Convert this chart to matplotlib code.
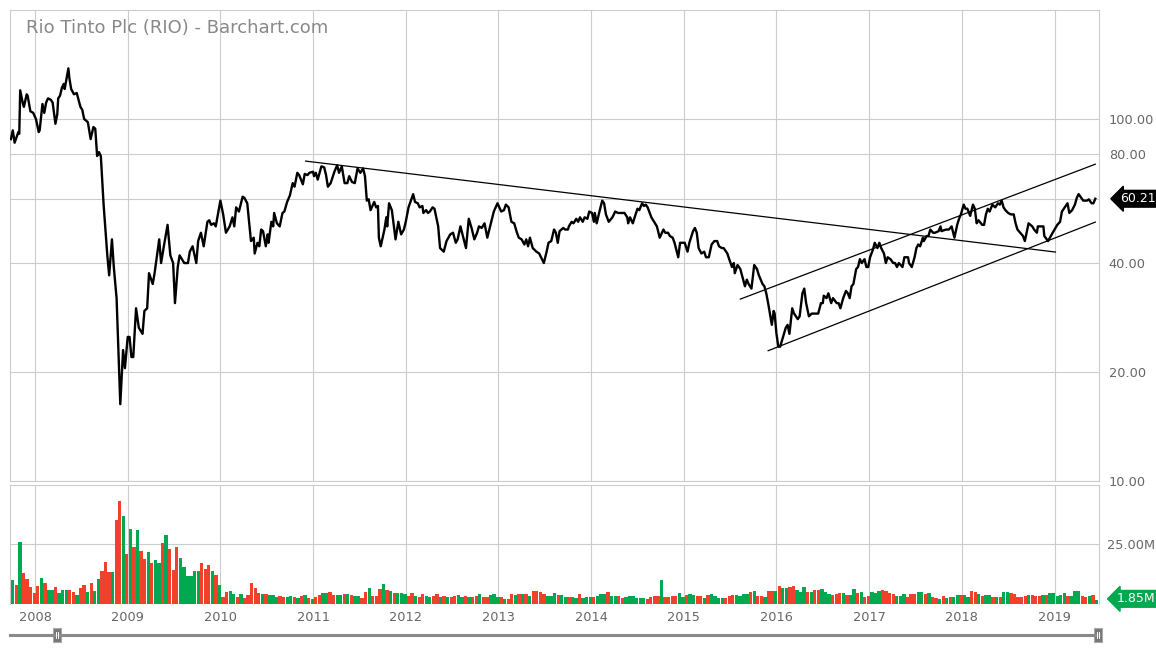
import numpy as np
import matplotlib
matplotlib.use("Agg")
import matplotlib.pyplot as plt
import matplotlib.transforms as mtrans
from matplotlib.patches import Rectangle
from matplotlib.lines import Line2D

# weekly-ish closing prices (decimal year, USD)
price_t = [
    2007.74, 2007.76, 2007.78, 2007.82, 2007.83, 2007.84, 2007.87, 2007.88, 2007.91, 2007.92,
    2007.95, 2007.98, 2008.01, 2008.04, 2008.05, 2008.08, 2008.10, 2008.12, 2008.14, 2008.17,
    2008.19, 2008.22, 2008.24, 2008.25, 2008.27, 2008.29, 2008.31, 2008.32, 2008.36, 2008.37,
    2008.39, 2008.42, 2008.45, 2008.49, 2008.51, 2008.53, 2008.57, 2008.60, 2008.63, 2008.65,
    2008.67, 2008.69, 2008.71, 2008.74, 2008.78, 2008.80, 2008.83, 2008.85, 2008.88, 2008.92,
    2008.95, 2008.97, 2009.00, 2009.02, 2009.04, 2009.06, 2009.09, 2009.12, 2009.16, 2009.18,
    2009.21, 2009.23, 2009.27, 2009.29, 2009.34, 2009.36, 2009.39, 2009.43, 2009.46, 2009.49,
    2009.51, 2009.54, 2009.56, 2009.61, 2009.65, 2009.67, 2009.70, 2009.74, 2009.76, 2009.79,
    2009.82, 2009.86, 2009.88, 2009.90, 2009.93, 2009.95, 2009.97, 2010.00, 2010.03, 2010.06,
    2010.10, 2010.13, 2010.15, 2010.17, 2010.20, 2010.24, 2010.26, 2010.29, 2010.33, 2010.36,
    2010.37, 2010.40, 2010.42, 2010.44, 2010.46, 2010.49, 2010.51, 2010.52, 2010.55, 2010.57,
    2010.58, 2010.61, 2010.64, 2010.67, 2010.69, 2010.72, 2010.75, 2010.78, 2010.80, 2010.83,
    2010.85, 2010.89, 2010.91, 2010.94, 2010.96, 2011.00, 2011.01, 2011.03, 2011.05, 2011.09,
    2011.12, 2011.14, 2011.16, 2011.19, 2011.23, 2011.26, 2011.28, 2011.31, 2011.34, 2011.37,
    2011.39, 2011.42, 2011.45, 2011.48, 2011.51, 2011.54, 2011.56, 2011.58, 2011.60, 2011.62,
    2011.66, 2011.68, 2011.70, 2011.71, 2011.73, 2011.77, 2011.79, 2011.80, 2011.82, 2011.85,
    2011.89, 2011.92, 2011.95, 2011.98, 2012.00, 2012.03, 2012.08, 2012.10, 2012.13, 2012.15,
    2012.18, 2012.19, 2012.22, 2012.24, 2012.26, 2012.29, 2012.31, 2012.35, 2012.37, 2012.41,
    2012.44, 2012.48, 2012.51, 2012.54, 2012.56, 2012.59, 2012.63, 2012.65, 2012.68, 2012.71,
    2012.74, 2012.77, 2012.79, 2012.82, 2012.85, 2012.88, 2012.91, 2012.95, 2012.97, 2012.99,
    2013.03, 2013.06, 2013.08, 2013.11, 2013.14, 2013.17, 2013.20, 2013.22, 2013.25, 2013.28,
    2013.30, 2013.32, 2013.34, 2013.37, 2013.41, 2013.44, 2013.47, 2013.49, 2013.52, 2013.54,
    2013.57, 2013.60, 2013.62, 2013.64, 2013.66, 2013.70, 2013.72, 2013.75, 2013.76, 2013.79,
    2013.81, 2013.84, 2013.86, 2013.88, 2013.91, 2013.93, 2013.96, 2013.98, 2014.01, 2014.03,
    2014.04, 2014.06, 2014.09, 2014.12, 2014.14, 2014.16, 2014.19, 2014.23, 2014.26, 2014.29,
    2014.33, 2014.36, 2014.39, 2014.40, 2014.42, 2014.45, 2014.47, 2014.50, 2014.52, 2014.55,
    2014.57, 2014.59, 2014.61, 2014.65, 2014.68, 2014.71, 2014.74, 2014.78, 2014.80, 2014.83,
    2014.85, 2014.88, 2014.90, 2014.94, 2014.96, 2014.99, 2015.01, 2015.04, 2015.06, 2015.10,
    2015.12, 2015.14, 2015.16, 2015.19, 2015.22, 2015.24, 2015.27, 2015.30, 2015.33, 2015.36,
    2015.38, 2015.41, 2015.43, 2015.47, 2015.49, 2015.52, 2015.54, 2015.55, 2015.58, 2015.61,
    2015.64, 2015.66, 2015.68, 2015.70, 2015.73, 2015.76, 2015.79, 2015.81, 2015.85, 2015.87,
    2015.89, 2015.91, 2015.95, 2015.97, 2015.98, 2016.00, 2016.02, 2016.04, 2016.08, 2016.10,
    2016.12, 2016.14, 2016.17, 2016.19, 2016.23, 2016.25, 2016.28, 2016.30, 2016.32, 2016.35,
    2016.38, 2016.40, 2016.43, 2016.45, 2016.48, 2016.50, 2016.51, 2016.54, 2016.56, 2016.59,
    2016.61, 2016.65, 2016.67, 2016.69, 2016.72, 2016.75, 2016.77, 2016.79, 2016.81, 2016.83,
    2016.86, 2016.88, 2016.90, 2016.92, 2016.95, 2016.97, 2016.99, 2017.01, 2017.04, 2017.06,
    2017.09, 2017.11, 2017.13, 2017.16, 2017.18, 2017.20, 2017.23, 2017.26, 2017.28, 2017.30,
    2017.32, 2017.36, 2017.38, 2017.42, 2017.43, 2017.46, 2017.49, 2017.51, 2017.53, 2017.55,
    2017.58, 2017.59, 2017.62, 2017.64, 2017.66, 2017.69, 2017.71, 2017.75, 2017.77, 2017.78,
    2017.83, 2017.86, 2017.89, 2017.92, 2017.95, 2017.97, 2017.99, 2018.02, 2018.04, 2018.06,
    2018.09, 2018.12, 2018.14, 2018.16, 2018.18, 2018.22, 2018.24, 2018.26, 2018.28, 2018.30,
    2018.33, 2018.36, 2018.39, 2018.41, 2018.43, 2018.45, 2018.47, 2018.50, 2018.53, 2018.56,
    2018.58, 2018.60, 2018.63, 2018.66, 2018.68, 2018.71, 2018.72, 2018.76, 2018.78, 2018.81,
    2018.82, 2018.85, 2018.88, 2018.89, 2018.93, 2018.95, 2018.98, 2019.00, 2019.03, 2019.06,
    2019.08, 2019.10, 2019.14, 2019.16, 2019.19, 2019.22, 2019.24, 2019.26, 2019.29, 2019.31,
    2019.35, 2019.37, 2019.40, 2019.42, 2019.44,
]
price = [
    88, 93, 86, 92, 91, 120, 110, 108, 117, 116,
    105, 104, 100, 92, 93, 110, 104, 111, 114, 113,
    111, 97, 103, 114, 116, 122, 125, 121, 138, 130,
    121, 117, 118, 108, 106, 100, 98, 88, 95, 94,
    79, 81, 79, 58, 42, 37, 46.5, 39, 32, 16.3,
    23, 20.5, 25, 25, 22, 22, 30, 26.5, 25.5, 29.5,
    30, 37.5, 35, 37.5, 46.5, 40, 44.5, 51, 42, 40,
    31, 39, 42, 40, 40, 43, 44.5, 40, 46, 48.5,
    44.5, 52, 52.5, 51, 51.5, 50.5, 54, 59.5, 54.5, 48.5,
    50.5, 53.5, 50.5, 57, 55.5, 61, 60.5, 58.5, 46, 47,
    42.5, 45.5, 44.5, 49.5, 49, 44.5, 48, 45.5, 52, 50.5,
    55, 51.5, 50.5, 55, 55.5, 59, 61.5, 66.5, 65, 71,
    70, 66, 70.5, 70, 71, 71.5, 69.5, 71, 68, 74,
    73.5, 70, 65, 66.5, 71.5, 74.5, 71, 74, 66.5, 66.5,
    69.5, 67, 66.5, 73, 71, 73, 69.5, 59.5, 60, 56,
    59, 57, 57.5, 47, 44.5, 49.5, 53.5, 50.5, 58.5, 56,
    46.5, 52, 48, 49.5, 52, 57, 62, 59, 58.5, 57,
    57.5, 55, 56, 55, 55.5, 57, 56.5, 50.5, 44, 43,
    46, 48, 48.5, 45.5, 46.5, 50.5, 46, 44, 53, 50,
    46.5, 48.5, 50.5, 50, 51.5, 47, 50.5, 55.5, 57, 58.5,
    55.5, 56, 58, 57, 52, 51.5, 48.5, 47, 46.5, 45,
    46.5, 44.5, 47, 44, 43, 42.5, 41, 40, 43, 45.5,
    46, 49.5, 48.5, 45.5, 49, 50, 49.5, 49.5, 50.5, 52,
    51.5, 53, 52, 53.5, 52, 53.5, 53, 55.5, 55, 52,
    55, 51.5, 55.5, 59.5, 58.5, 54.5, 52, 53.5, 55.5, 55,
    55, 55, 53.5, 51.5, 53.5, 51.5, 53.5, 56.5, 56, 58.5,
    57.5, 58, 57, 53.5, 52, 50.5, 47, 49.5, 48.5, 48.5,
    47.5, 47, 45.5, 41.5, 45.5, 45.5, 45.5, 43, 45.5, 49,
    50, 48.5, 44, 42.5, 43, 41.5, 41.5, 45, 46, 46,
    44.5, 44, 44, 42.5, 41, 39, 40, 37.5, 39.5, 38.5,
    36, 34.5, 36, 35, 34, 39.5, 38.5, 37, 35, 34.5,
    33, 31, 27, 29.5, 29, 25.5, 23.5, 23.5, 25.5, 26.5,
    27, 25.5, 30, 29, 28, 28.5, 33, 34, 31, 28.5,
    29, 29, 29, 29, 31, 31, 32.5, 32, 33, 31,
    32, 31, 31, 30, 32, 33.5, 33, 32, 34.5, 35,
    38.5, 39, 41, 40, 41, 39, 39, 41.5, 43.5, 45.5,
    44, 45.5, 44, 42.5, 40, 41.5, 41, 40, 40, 39,
    40, 39, 41.5, 41.5, 40, 39, 41.5, 44, 45, 44.5,
    47, 46, 47.5, 47.5, 49.5, 48.5, 48.5, 49, 50.5, 49,
    49.5, 49.5, 50.5, 47, 51, 53, 54.5, 58, 56.5, 56.5,
    54, 58, 56.5, 51.5, 52.5, 51, 51, 54.5, 56.5, 55.5,
    58, 57, 58.5, 58, 59.5, 57, 56, 55, 54.5, 54.5,
    51.5, 49.5, 48.5, 47.5, 46, 50, 51.5, 50.5, 49.5, 48.5,
    50.5, 50.5, 50.5, 47.5, 46, 47, 48.5, 49.5, 51, 52,
    55.5, 56.5, 58.5, 55, 56, 58, 60.5, 62, 60.5, 59.5,
    59.5, 60, 58.5, 58.5, 60.21,
]
last_price = 60.21

# hand-drawn trend lines (start / end)
trend_t = [[2010.92, 2019.01], [2015.61, 2019.44], [2015.91, 2019.44]]
trend_p = [[76.5, 42.9], [31.8, 75.0], [22.9, 51.9]]

# volume in millions, one bar per two weeks, g = up, r = down
volume = [
    10, 7.9, 26, 12.8, 10.3, 7, 4.4, 7.5, 10.8, 8.9,
    5.8, 5.8, 7, 4.4, 5.8, 5.8, 5.8, 4.9, 3.75, 6.8,
    7.9, 4.9, 8.6, 5.3, 10.4, 13.9, 17.5, 13.3, 13.3, 35,
    43, 36.7, 20.8, 31.2, 23.6, 30.8, 22, 18.6, 21.7, 17,
    18.3, 17, 25.6, 28.8, 22.9, 14.2, 23.8, 19.2, 15.3, 11.7,
    11.7, 13.8, 13.8, 17, 14.4, 16.3, 13.8, 12, 7.8, 2.9,
    4.9, 5.4, 4.2, 3, 4.2, 2.5, 3.6, 8.6, 6.7, 4.7,
    4, 4, 3.6, 3.6, 2.8, 3.3, 2.8, 2.8, 3.3, 2.8,
    2.5, 3.3, 3.6, 2.5, 1.9, 2.8, 3.75, 4.4, 4.4, 5,
    3.75, 3.75, 3.75, 4.3, 4.2, 3.75, 3.3, 3.3, 2.6, 5,
    6.7, 3.3, 3.3, 6.25, 8.3, 5.8, 5.4, 4.7, 4.4, 4.4,
    4.0, 3.5, 4.5, 3.5, 3.0, 4.0, 3.5, 3.0, 3.5, 4.0,
    3.0, 3.5, 3.0, 2.8, 3.3, 3.8, 3.0, 3.5, 3.0, 2.8,
    3.5, 4.2,
    2.8, 2.8, 3.6, 4.2, 2.8, 2.8, 2.2, 1.9, 4.2, 3.75,
    4.2, 4.2, 4.2, 3.3, 5.4, 5.4, 5, 4.2, 3.3, 3.3,
    4.4, 3.75, 3.6, 3, 3, 3, 2.4, 4.2, 2.4, 2.8,
    2.8, 2.8, 3.5, 4.2, 4.2, 4.9, 3.3, 3.3, 3.3, 2.4,
    2.9, 3.3, 3.3, 2.4, 2.4, 2.4, 2.2, 3, 3.3, 3.3,
    10, 2.8, 2.8, 3.3, 3.3, 4.6, 2.8, 3.75, 4.2, 3.6,
    3.3, 3.3, 2.4, 3.75, 4.2, 3.3, 2.4, 2.4, 2.4, 3.3,
    3.75, 3.75, 3.3, 4.2, 4.2, 5, 5.6, 3.5, 3.3, 2.8,
    5.4, 5.4, 5.6, 7.5, 6.5, 6.5, 6.9, 7.5, 5.8, 5,
    7, 5, 5, 5.8, 5.8, 6.25, 5, 4.2, 3.6, 4,
    4.4, 4.4, 3.75, 3.75, 6.25, 4.4, 4.9, 3, 3.3, 4.9,
    4.4, 5.4, 5.8, 5.4, 4.4, 4, 3.3,
    3.3, 4.2, 3, 4.2, 4.2, 5, 5, 4.2, 4.4, 3,
    2.4, 2, 3.3, 2.4, 2.8, 2.8, 3.6, 3.6, 3.6, 2.8,
    5.4, 4.9, 4, 3.3, 3.6, 3.75, 2.8, 2.8, 3, 4.9,
    4.9, 4.4, 4.2, 3, 3, 3.3, 3.75, 3.75, 3.3, 3.3,
    3.6, 3.6, 4.4, 4.4, 3.3, 3.75, 4.4, 3.3, 3.3, 5.4,
    5.4, 3.3, 3, 3.3, 3.75, 1.85,
]
vol_dir = (
    "grgrrrrrgr" "ggrgggrrgr" "rgrggrrrgr" "rgrgrgrrgr" "ggrgrrrggg"
    "gggrrrgrgr" "rggrgrrrrr" "grgggrrggr" "grgrgrrggr" "rggrgrggrr"
    "grrrgrgrgg"
    "grrgrrggrrgrgrrggrgrrg"
    "rrgggrgrrg" "rgrgrrrrgg" "grggrggrgg" "grgggrggrr" "ggggggrrrr"
    "grrrrggrgg" "rrgrggggrr" "rggggrgrrg" "rrgrggrrgg" "grgrrgggrr"
    "rgrggrgrrg" "ggrrrrg"
    "ggrrrggrgr" "rgrgrggrgg" "rrgrggrgrg" "grrrrrgrrr" "grgggggrgg"
    "grrgrg"
)
last_volume = 1.85
years = list(range(2008, 2020))

GREEN = "#00a94f"
RED = "#f0412a"
GRID = "#cccccc"
LABEL = "#666666"

W, H = 1156, 650
fig = plt.figure(figsize=(W / 100, H / 100), dpi=100)
fig.patch.set_facecolor("white")

def fx(px):
    return px / W

def fy(py):
    return 1 - py / H

ax = fig.add_axes([fx(10), fy(481), fx(1099) - fx(10), fy(10) - fy(481)])
axv = fig.add_axes([fx(10), fy(604), fx(1099) - fx(10), fy(485) - fy(604)], sharex=ax)

x0, x1 = 2007.73, 2019.48

# price pane
ax.plot(price_t, price, color="black", lw=1.7, solid_joinstyle="round", zorder=3)
for tt, pp in zip(trend_t, trend_p):
    ax.plot(tt, pp, color="black", lw=0.9, zorder=3)
ax.set_yscale("log")
ax.set_ylim(10, 200)
ax.set_xlim(x0, x1)
ax.set_yticks([10, 20, 40, 60, 80, 100])
ax.set_yticklabels(["10.00", "20.00", "40.00", "", "80.00", "100.00"])
ax.yaxis.set_minor_locator(matplotlib.ticker.NullLocator())
ax.yaxis.tick_right()
ax.tick_params(axis="y", length=0, pad=7, labelsize=9.3, labelcolor=LABEL)
ax.tick_params(axis="x", length=0, labelbottom=False)
ax.set_xticks(years)
ax.grid(True, color=GRID, lw=0.8)
for s in ax.spines.values():
    s.set_color(GRID)
    s.set_linewidth(0.8)

trans = mtrans.blended_transform_factory(ax.transAxes, ax.transData)
ax.text(1.019, last_price, f"{last_price:.2f}", transform=trans, color="white",
        fontsize=9, va="center", ha="left",
        bbox=dict(boxstyle="larrow,pad=0.15", fc="black", ec="black"))

# volume pane
vol_t = 2007.76 + np.arange(len(volume)) / 26.0
colors = [GREEN if c == "g" else RED for c in vol_dir[:len(volume)]]
axv.bar(vol_t, volume, width=0.92 / 26, color=colors, linewidth=0, zorder=3)
axv.set_ylim(0, 49.6)
axv.set_yticks([25])
axv.set_yticklabels(["25.00M"])
axv.yaxis.tick_right()
axv.tick_params(axis="y", length=0, pad=6, labelsize=9.3, labelcolor=LABEL)
axv.set_xticks(years)
axv.set_xticklabels([str(y) for y in years])
axv.tick_params(axis="x", length=0, pad=5, labelsize=9.3, labelcolor=LABEL)
axv.grid(True, color=GRID, lw=0.8)
for s in axv.spines.values():
    s.set_color(GRID)
    s.set_linewidth(0.8)
axv.spines["bottom"].set_visible(False)

transv = mtrans.blended_transform_factory(axv.transAxes, axv.transData)
axv.text(1.016, last_volume + 0.3, f"{last_volume:.2f}M", transform=transv, color="white",
         fontsize=9, va="center", ha="left",
         bbox=dict(boxstyle="larrow,pad=0.15", fc=GREEN, ec=GREEN))

# title
fig.text(fx(26), fy(28), "Rio Tinto Plc (RIO) - Barchart.com", color="#888888",
         fontsize=13, va="center", ha="left")

# range slider at the bottom
fig.add_artist(Line2D([fx(10), fx(1099)], [fy(635), fy(635)], color="#8a8a8a", lw=2.2))
for hx in (57, 1098):
    fig.add_artist(Rectangle((fx(hx - 4), fy(642)), fx(8), fy(628) - fy(642),
                             fc="#777777", ec="#aaaaaa", lw=0.8))
    for dx in (-1.2, 1.2):
        fig.add_artist(Line2D([fx(hx + dx), fx(hx + dx)], [fy(638), fy(632)],
                              color="white", lw=0.7))

fig.savefig("out.png", dpi=100)
